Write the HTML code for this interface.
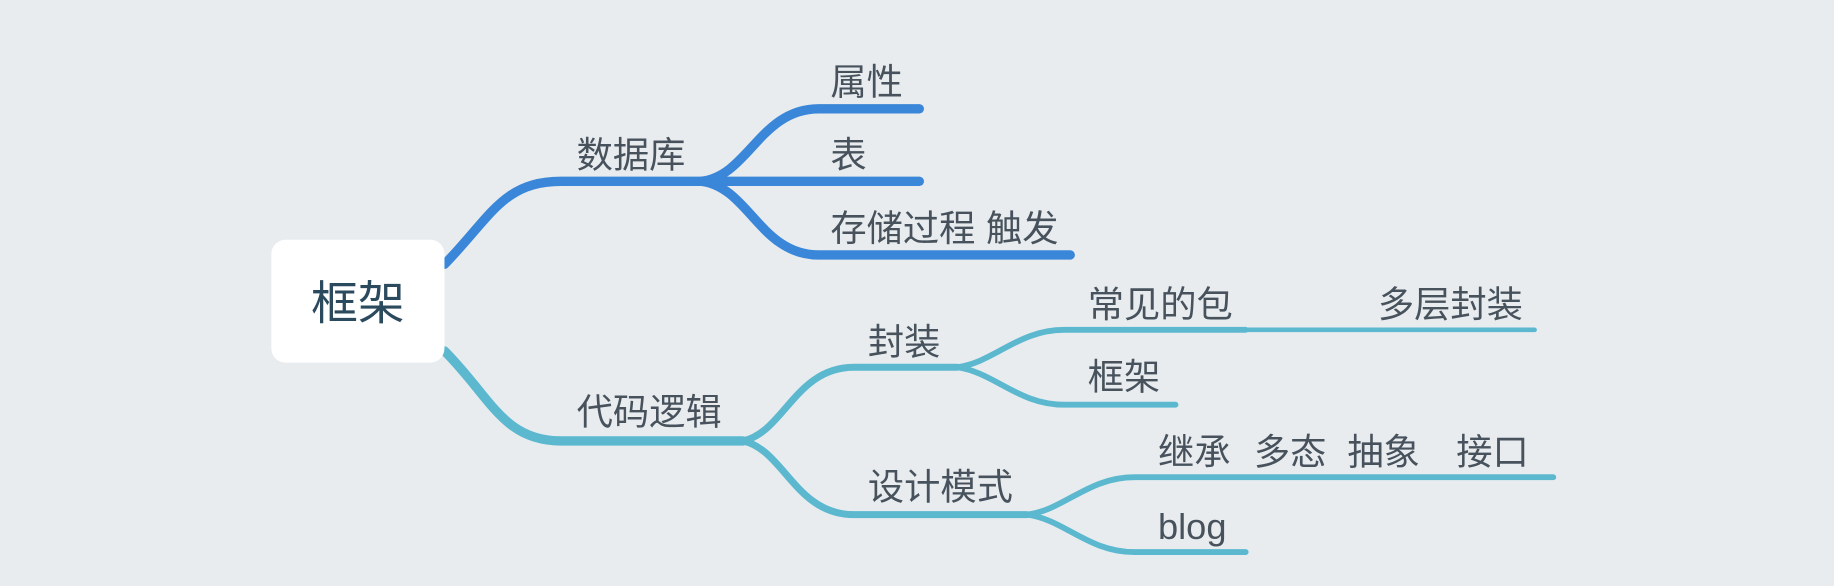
<!DOCTYPE html>
<html><head><meta charset="utf-8"><style>
html,body{margin:0;padding:0;background:#e8ecef;width:1834px;height:586px;overflow:hidden}
svg{display:block}
text{font-family:"Liberation Sans","Noto Sans CJK SC",sans-serif;fill:#47525c;font-size:31px}
</style></head><body>
<svg width="1834" height="586" viewBox="0 0 1568 501" preserveAspectRatio="none">
<rect width="1568" height="501" fill="#e8ecef"/>
<g fill="none" stroke-linecap="round">
<g stroke="#3a86d8" stroke-width="8">
<path d="M380 226 C420 185, 430 155, 480 155 L600 155"/>
<path d="M600 155 C640 150, 650 93, 700 93 L786 93"/>
<path d="M600 155 L786 155"/>
<path d="M600 155 C640 160, 650 218, 700 218 L915 218"/>
</g>
<g stroke="#5bb8cf">
<path d="M380 300 C420 340, 430 377, 480 377 L635 377" stroke-width="8"/>
<path d="M635 377 C670 370, 680 314, 730 314 L818 314" stroke-width="6"/>
<path d="M635 377 C670 384, 680 440, 730 440 L878 440" stroke-width="6"/>
<path d="M818 314 C850 310, 870 282, 910 282 L1065 282" stroke-width="5"/>
<path d="M1065 282 L1312 282" stroke-width="4"/>
<path d="M818 314 C850 318, 870 346, 910 346 L1005 346" stroke-width="5"/>
<path d="M878 440 C910 436, 930 408, 970 408 L1328 408" stroke-width="5"/>
<path d="M878 440 C910 444, 930 472, 970 472 L1065 472" stroke-width="5"/>
</g>
</g>
<rect x="232" y="205" width="148" height="105" rx="12" fill="#fff"/>
<text x="306" y="273" text-anchor="middle" style="font-size:40px;fill:#2c4a5e">框架</text>
<text x="710" y="81">属性</text>
<text x="493" y="143">数据库</text>
<text x="710" y="143">表</text>
<text x="710" y="206">存储过程</text>
<text x="843" y="206">触发</text>
<text x="930" y="271">常见的包</text>
<text x="1178" y="271">多层封装</text>
<text x="742" y="303">封装</text>
<text x="930" y="333">框架</text>
<text x="493" y="363">代码逻辑</text>
<text x="990" y="397">继承</text>
<text x="1072" y="397">多态</text>
<text x="1152" y="397">抽象</text>
<text x="1245" y="397">接口</text>
<text x="742" y="427">设计模式</text>
<text x="990" y="461">blog</text>
</svg>
</body></html>
